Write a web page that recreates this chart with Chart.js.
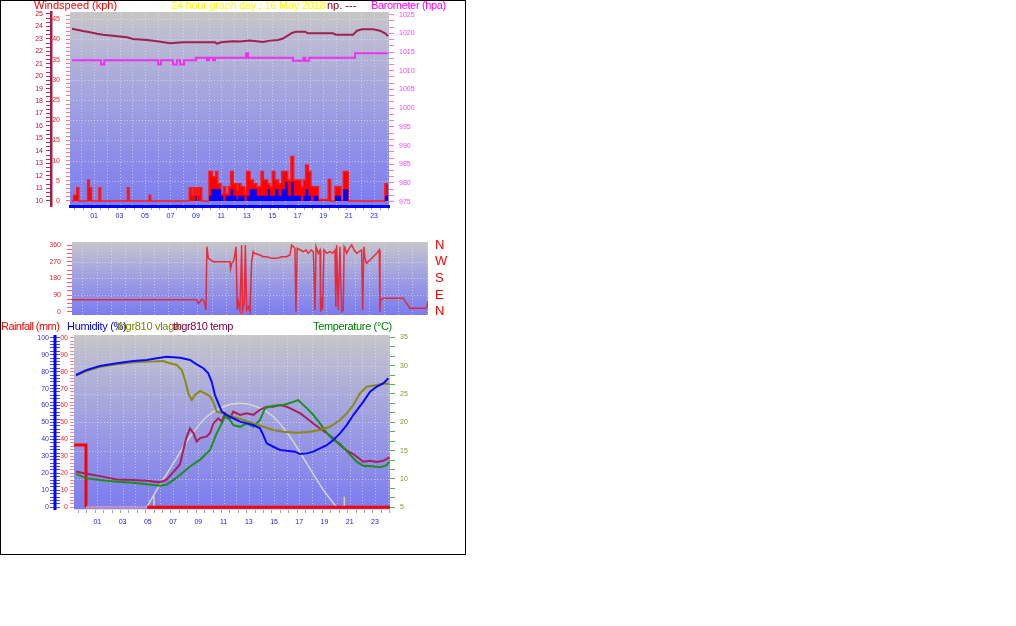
<!DOCTYPE html>
<html>
<head>
<meta charset="utf-8">
<title>24 hour graph</title>
<script src="https://cdn.jsdelivr.net/npm/chart.js@4.4.1/dist/chart.umd.min.js"></script>
<style>
  body { margin: 0; background: #fff; width: 1016px; height: 626px; overflow: hidden; position: relative; }
  #frame { position: absolute; left: 0; top: 0; width: 464px; height: 553px; border: 1px solid #000; }
  canvas { position: absolute; left: 0; }
  .t { position: absolute; font: 11px 'Liberation Sans', Arial, sans-serif; line-height: 11px; white-space: nowrap; }
</style>
</head>
<body>
<div id="frame"></div>
<canvas id="wind" width="466" height="228" style="top:0"></canvas>
<canvas id="dir" width="466" height="90" style="top:230px"></canvas>
<canvas id="hum" width="466" height="220" style="top:320px"></canvas>

<div class="t" style="left:34px;top:0;color:#ff0000">Windspeed (kph)</div>
<div class="t" style="left:327px;top:0;color:#800020">np. ---</div>
<div class="t" style="left:171px;top:0;color:#ffff00;letter-spacing:-0.25px">24 hour graph day : 16 May 2018</div>
<div class="t" style="left:371px;top:0;color:#ff00ff;letter-spacing:-0.35px">Barometer (hpa)</div>

<div class="t" style="left:1px;top:321px;color:#ff0000;letter-spacing:-0.55px">Rainfall (mm)</div>
<div class="t" style="left:67px;top:321px;color:#0000ff;letter-spacing:-0.3px">Humidity (%)</div>
<div class="t" style="left:117px;top:321px;color:#808000;letter-spacing:-0.3px">thgr810 vlaga</div>
<div class="t" style="left:173px;top:321px;color:#800040;letter-spacing:-0.4px">thgr810 temp</div>
<div class="t" style="left:313px;top:321px;color:#008000;letter-spacing:-0.35px">Temperature (°C)</div>

<script>
// time axis labels (hours)
var hourTicks = [1, 3, 5, 7, 9, 11, 13, 15, 17, 19, 21, 23];
var hourLabels = ['01', '03', '05', '07', '09', '11', '13', '15', '17', '19', '21', '23'];

// --- windspeed / barometer ---
var windHours = [-0.75, -0.6, -0.36, -0.2, 0.5, 0.63, 0.8, 1.39, 1.52, 3.62, 3.75, 5.34, 5.45,
  8.48, 8.67, 8.8, 8.93, 9.06, 9.19, 9.27, 9.46,
  10.03, 10.2, 10.29, 10.55, 10.71, 10.97, 11.16, 11.34, 11.55, 11.73, 11.94, 12.2, 12.33, 12.54, 12.81,
  12.99, 13.25, 13.51, 13.78, 14.12, 14.3, 14.64, 14.82, 15.0, 15.21, 15.48, 15.74, 16.0, 16.21, 16.47,
  16.68, 17.26, 17.44, 17.62, 17.83, 18.04, 18.25, 18.62, 19.4, 19.59, 19.93, 20.4, 20.58, 20.97, 23.85, 24.1];
var gustKph = [0, 1.4, 3.3, 0, 5.2, 3.3, 0, 3.3, 0, 3.3, 0, 1.4, 0,
  3.3, 1.5, 3.3, 1.5, 3.3, 1.5, 3.3, 0,
  7.3, 7.3, 6.0, 7.3, 4.3, 1.8, 3.5, 1.8, 3.5, 7.3, 4.3, 2.7, 4.3, 3.5, 1.8,
  7.3, 5.2, 4.3, 3.5, 7.3, 5.2, 4.3, 3.5, 7.3, 5.2, 4.3, 7.3, 7.3, 5.2, 11.0,
  5.2, 3.5, 5.2, 8.9, 7.3, 3.5, 3.5, 0.4, 5.3, 0, 3.5, 0.4, 7.3, 0, 4.3, 4.3];
var avgKph = [0, 0, 0, 0, 0, 0, 0, 0, 0, 0, 0, 0, 0,
  0, 0, 0, 1.3, 0, 0, 0, 0,
  1.3, 2.9, 2.9, 2.9, 2.9, 1.3, 0, 1.3, 1.3, 2.9, 1.3, 0.4, 1.3, 1.3, 0,
  1.3, 2.9, 2.9, 1.3, 1.3, 1.3, 2.9, 1.3, 1.3, 2.9, 1.3, 2.9, 4.7, 1.3, 4.7,
  1.3, 0, 1.3, 2.9, 1.3, 0, 1.3, 0, 0, 0, 1.3, 0, 2.9, 0, 1.3, 1.3];
var kphLabels = [0, 5, 10, 15, 20, 25, 30, 35, 40, 45];
var beaufortLabels = [10, 11, 12, 13, 14, 15, 16, 17, 18, 19, 20, 21, 22, 23, 24, 25];

var upperHours = [-0.73, -0.26, 0.13, 0.68, 1.23, 1.7, 2.65, 3.59, 4.06, 5.16, 5.95, 6.97, 7.99, 10.5, 10.66,
  10.97, 11.9, 12.47, 13.26, 14.27, 14.82, 15.45, 15.84, 16.55, 16.87, 17.57, 17.8, 19.77, 20.0, 21.34,
  21.66, 22.05, 22.92, 23.46, 23.86, 24.1];
var upperVals = [1021.2, 1020.9, 1020.6, 1020.3, 1019.9, 1019.65, 1019.3, 1018.95, 1018.5, 1018.2, 1017.9,
  1017.35, 1017.6, 1017.6, 1017.25, 1017.6, 1017.9, 1017.8, 1018.05, 1017.7, 1018.05, 1018.2, 1018.6,
  1020.1, 1020.45, 1020.45, 1020.0, 1020.0, 1019.65, 1019.65, 1020.7, 1021.1, 1021.1, 1020.7, 1020.0, 1019.3];

var baroHours = [-0.73, 1.55, 1.8, 6.03, 6.26, 7.2, 7.5, 7.75, 8.07, 9.0, 9.87, 10.03, 10.35, 10.5, 12.94,
  13.1, 16.63, 17.45, 17.6, 17.9, 21.5, 24.1];
var baroHpa = [1012.8, 1011.7, 1012.8, 1011.7, 1012.8, 1011.7, 1012.8, 1011.7, 1012.8, 1013.5, 1012.8,
  1013.5, 1012.8, 1013.5, 1014.7, 1013.5, 1012.7, 1013.5, 1012.7, 1013.5, 1014.7, 1014.7];
var baroLabels = [975, 980, 985, 990, 995, 1000, 1005, 1010, 1015, 1020, 1025];

// --- wind direction ---
var dirHours = [-0.73, 7.97, 8.08, 8.2, 8.31, 8.43, 8.54, 8.61, 8.68, 8.78, 9.12, 10.29, 10.33, 10.41, 10.52,
  10.59, 10.71, 10.8, 10.87, 10.99, 11.1, 11.17, 11.29, 11.36, 11.45, 11.57, 11.68, 11.8, 11.91, 12.0,
  12.38, 12.6, 12.85, 13.2, 13.55, 13.9, 14.24, 14.47, 14.59, 14.82, 14.89, 14.98, 15.2, 15.4, 15.6,
  15.75, 15.95, 16.1, 16.22, 16.29, 16.45, 16.57, 16.61, 16.69, 16.75, 16.84, 17.05, 17.26, 17.45, 17.61,
  17.67, 17.73, 17.84, 17.96, 18.08, 18.19, 18.25, 18.31, 18.43, 18.6, 18.78, 18.95, 19.12, 19.3, 19.47,
  19.54, 19.63, 19.7, 19.82, 20.05, 20.28, 20.52, 20.7, 20.75, 20.8, 20.98, 22.37, 22.84, 24.0, 24.1];
var dirDeg = [65, 65, 45, 54, 67, 63, 40, 9, 351, 288, 270, 270, 232, 261, 270,
  288, 351, 9, 54, 9, 360, 9, 54, 360, 9, 27, 0, 270, 324, 315,
  306, 297, 297, 288, 288, 297, 297, 306, 360, 342, 0, 342, 333, 324, 333,
  315, 333, 324, 9, 351, 315, 333, 0, 54, 9, 333, 315, 324, 315, 333,
  27, 360, 9, 351, 0, 9, 351, 342, 315, 342, 360, 333, 315, 324, 333,
  9, 351, 288, 261, 279, 297, 315, 333, 0, 63, 72, 72, 18, 18, 54];
var dirLabels = [0, 90, 180, 270, 360];
var compassLabels = ['N', 'E', 'S', 'W', 'N'];

// --- rain / humidity / temperature ---
var rainHours = [-0.85, 0.1, 0.1, 4.95, 24.19];
var rainMm = [36.7, 36.7, 0, 0, 0];

var humHours = [-0.69, 0.16, 1.21, 2.54, 3.85, 4.91, 5.71, 6.5, 7.55, 8.34, 8.87, 9.4, 9.79, 10.06, 10.32,
  10.59, 10.86, 11.25, 11.77, 12.31, 12.84, 13.36, 13.89, 14.15, 14.42, 14.94, 15.48, 16.0, 16.66, 17.06,
  17.59, 18.11, 18.64, 19.18, 19.7, 20.23, 20.76, 21.28, 22.08, 22.61, 23.14, 23.66, 24.06];
var humPct = [78.0, 81.0, 83.3, 84.9, 86.3, 86.9, 87.9, 88.8, 88.2, 86.9, 84.3, 82.0, 79.0, 74.0, 66.2,
  61.3, 56.4, 54.4, 52.5, 50.5, 49.5, 48.5, 46.6, 42.6, 37.7, 35.7, 33.8, 33.4, 32.8, 31.4,
  31.8, 32.8, 34.8, 36.7, 39.7, 43.6, 48.5, 54.4, 62.3, 68.2, 71.1, 73.1, 76.1];

var vlagaHours = [-0.69, 0.16, 1.21, 2.54, 3.85, 5.17, 6.23, 6.76, 7.29, 7.69, 7.95, 8.21, 8.48, 8.74, 9.14,
  9.53, 9.93, 10.19, 10.46, 10.98, 11.77, 12.57, 13.36, 14.15, 14.94, 15.74, 16.8, 17.85, 18.64, 19.43,
  20.23, 20.76, 21.28, 21.81, 22.35, 23.14, 23.66, 24.14];
var vlagaPct = [77.6, 80.4, 82.9, 84.3, 85.5, 85.9, 86.3, 84.9, 83.9, 81.0, 75.1, 67.2, 63.3, 66.2, 68.6,
  67.2, 65.5, 62.0, 56.4, 55.4, 53.4, 51.5, 49.5, 47.5, 45.6, 44.6, 44.0, 44.6, 45.6, 47.5,
  51.5, 55.4, 60.3, 67.2, 71.1, 72.1, 73.1, 72.5];

var tempHours = [-0.69, 0.16, 1.21, 2.54, 3.85, 4.91, 5.97, 6.5, 7.02, 7.55, 7.81, 8.08, 8.34, 8.61, 8.87,
  9.14, 9.67, 9.93, 10.19, 10.59, 10.86, 11.12, 11.51, 11.77, 12.31, 12.84, 13.36, 13.89, 14.42, 14.94,
  15.48, 16.0, 16.53, 17.06, 17.59, 18.11, 18.64, 19.18, 19.7, 20.23, 20.76, 21.28, 22.08, 22.61, 23.14,
  23.66, 24.14];
var tempC = [11.3, 10.9, 10.5, 9.9, 9.8, 9.7, 9.4, 9.9, 11.2, 12.6, 15.1, 17.5, 18.9, 18.1, 16.6,
  17.2, 17.5, 18.1, 19.8, 20.7, 20.1, 21.6, 20.7, 21.9, 21.3, 21.6, 21.3, 22.2, 22.75, 22.75,
  23.05, 22.75, 22.2, 21.6, 20.7, 19.8, 18.9, 18.1, 17.2, 16.0, 15.0, 14.4, 13.05, 13.2, 13.0,
  13.2, 13.8];

var outHours = [-0.69, 0.16, 1.21, 2.54, 3.85, 4.91, 5.97, 6.5, 7.02, 7.55, 8.34, 9.14, 9.93, 10.46, 10.86,
  11.12, 11.51, 11.77, 12.31, 12.84, 13.36, 13.89, 14.29, 14.94, 15.74, 16.53, 16.92, 17.06, 17.59, 18.11,
  18.64, 19.18, 19.7, 20.23, 20.76, 21.55, 22.08, 22.61, 23.4, 23.93, 24.14];
var outC = [10.9, 10.1, 9.8, 9.5, 9.35, 9.05, 8.8, 9.0, 9.8, 10.7, 12.2, 13.4, 15.1, 18.1, 19.8,
  21.0, 20.4, 19.5, 19.2, 19.8, 19.2, 20.4, 22.5, 22.9, 23.05, 23.6, 23.9, 23.6, 22.5, 21.3,
  19.8, 18.1, 16.9, 16.2, 14.9, 13.05, 12.3, 12.3, 12.05, 12.45, 13.05];

var solarHours = [4.91, 5.71, 7.02, 8.34, 9.67, 10.98, 12.31, 13.63, 14.94, 16.27, 17.59, 18.91, 19.97];
var solarVal = [0, 10.2, 25.9, 41.6, 53.4, 59.3, 61.3, 59.3, 53.4, 41.6, 25.9, 10.2, 0];
var sunMarks = [5.49, 20.57];
var sunMarkTop = 6.3;

var humLabels = [0, 10, 20, 30, 40, 50, 60, 70, 80, 90, 100];
var tempLabels = [5, 10, 15, 20, 25, 30, 35];


Chart.defaults.font.family = "'Liberation Sans', Arial, sans-serif";

function pts(xs, ys) {
  return xs.map(function (x, i) { return { x: x, y: ys[i] }; });
}

// fixed axis box size so the plot areas land where the original has them
function fixBox(size) {
  return function (s) {
    if (s.isHorizontal()) s.height = size; else s.width = size;
    s.paddingTop = 0; s.paddingBottom = 0; s.paddingLeft = 0; s.paddingRight = 0;
  };
}

function stepTicks(from, step, count) {
  return function (s) {
    var t = [];
    for (var k = 0; k <= count; k++) t.push({ value: +(from + k * step).toFixed(4) });
    s.ticks = t;
  };
}

function labelIf(list) {
  return function (v) {
    for (var i = 0; i < list.length; i++) if (Math.abs(list[i] - v) < 0.001) return String(list[i]);
    return '';
  };
}

function yAxis(o) {
  return {
    position: o.pos, weight: o.weight || 0, min: o.min, max: o.max,
    afterBuildTicks: stepTicks(o.from, o.step, o.count),
    afterFit: fixBox(o.size),
    grid: { drawOnChartArea: false, drawTicks: o.tick > 0, tickLength: o.tick || 0, tickColor: o.tickColor, tickWidth: 1 },
    border: { display: !!o.border, color: o.border, width: o.borderWidth || 1 },
    ticks: { autoSkip: false, padding: o.pad, color: o.color, font: { size: o.fs || 7 }, callback: o.cb }
  };
}

function timeAxis(min, max, size, pad, border) {
  return {
    type: 'linear', position: 'bottom', min: min, max: max,
    afterBuildTicks: function (s) {
      var t = [];
      for (var k = 0; k <= 38; k++) {
        var v = -0.5 + k * 2 / 3;
        if (v >= min && v <= max) t.push({ value: v });
      }
      hourTicks.forEach(function (h) { t.push({ value: h }); });
      t.sort(function (a, b) { return a.value - b.value; });
      s.ticks = t;
    },
    afterFit: fixBox(size),
    grid: {
      drawOnChartArea: false, tickLength: 4,
      tickColor: function (ctx) { return hourTicks.indexOf(ctx.tick.value) >= 0 ? 'rgba(0,0,0,0)' : '#a4a4a4'; }
    },
    border: border,
    ticks: {
      autoSkip: false, maxRotation: 0, padding: pad, color: '#1818ff', font: { size: 7 },
      callback: function (v) { var i = hourTicks.indexOf(v); return i < 0 ? '' : hourLabels[i]; }
    }
  };
}

// gradient plot background, dotted grid and the blue humidity spine
var plotBack = {
  id: 'plotBack',
  beforeDraw: function (chart, args, o) {
    var a = chart.chartArea, c = chart.ctx;
    c.save();
    var g = c.createLinearGradient(0, a.top, 0, a.bottom);
    g.addColorStop(0, '#c6c6c6');
    g.addColorStop(0.12, '#bcbcd2');
    g.addColorStop(0.5, '#9e9ee2');
    g.addColorStop(1, '#7c7cf0');
    c.fillStyle = g;
    c.fillRect(a.left, a.top, a.right - a.left, a.bottom - a.top);
    c.strokeStyle = 'rgba(228,228,240,0.6)';
    c.lineWidth = 1;
    c.setLineDash([1, 2]);
    var xs = chart.scales.x;
    for (var h = 0; h <= 24; h++) {
      var px = Math.round(xs.getPixelForValue(h)) + 0.5;
      c.beginPath(); c.moveTo(px, a.top); c.lineTo(px, a.bottom); c.stroke();
    }
    var ys = chart.scales[o.axis];
    o.lines.forEach(function (v) {
      var py = Math.round(ys.getPixelForValue(v)) + 0.5;
      c.beginPath(); c.moveTo(a.left, py); c.lineTo(a.right, py); c.stroke();
    });
    c.restore();
  },
  afterDraw: function (chart, args, o) {
    if (!o.spine) return;
    var s = chart.scales[o.spine.axis], c = chart.ctx;
    c.save();
    c.strokeStyle = o.spine.color;
    c.lineWidth = o.spine.width;
    c.beginPath();
    c.moveTo(s.right - o.spine.inset, s.top);
    c.lineTo(s.right - o.spine.inset, s.bottom + 1);
    c.stroke();
    c.restore();
  }
};

var common = {
  responsive: false, animation: false, devicePixelRatio: 1,
  elements: { point: { radius: 0 }, line: { tension: 0 } }
};

// ---- chart 1: windspeed + barometer ----
new Chart(document.getElementById('wind'), {
  type: 'line',
  data: {
    datasets: [
      { label: 'Gust', data: pts(windHours, gustKph), yAxisID: 'yKph', stepped: 'before', fill: 'origin',
        borderColor: '#ff1818', backgroundColor: '#ff0000', borderWidth: 1.5, order: 4 },
      { label: 'Average', data: pts(windHours, avgKph), yAxisID: 'yKph', stepped: 'before', fill: 'origin',
        borderColor: '#0000ff', backgroundColor: '#0000ff', borderWidth: 0, order: 3 },
      { label: 'Temp', data: pts(upperHours, upperVals), yAxisID: 'yBaro',
        borderColor: '#a02050', borderWidth: 2, order: 2 },
      { label: 'Barometer', data: pts(baroHours, baroHpa), yAxisID: 'yBaro', stepped: 'before',
        borderColor: '#f030f0', borderWidth: 2, order: 1 }
    ]
  },
  options: Object.assign({}, common, {
    layout: { padding: { left: 29, right: 37, top: 12, bottom: 0 } },
    plugins: { legend: { display: false }, tooltip: { enabled: false },
      plotBack: { axis: 'yKph', lines: [5, 10, 15, 20, 25, 30, 35, 40, 45] } },
    scales: {
      x: timeAxis(-0.89, 24.17, 22, 2, { display: true, color: '#0000ff', width: 3 }),
      yBeau: yAxis({ pos: 'left', weight: 2, min: 9.57, max: 25.16, from: 10, step: 1 / 3, count: 45,
        size: 22, tick: 5, tickColor: '#b03058', border: '#a0204c', borderWidth: 2.5, pad: 3,
        color: '#c01030', cb: labelIf(beaufortLabels) }),
      yKph: yAxis({ pos: 'left', weight: 1, min: -1.24, max: 46.8, from: 0, step: 1, count: 46,
        size: 19, tick: 4, tickColor: '#ff7878', pad: 6, color: '#ff2020', cb: labelIf(kphLabels) }),
      yBaro: yAxis({ pos: 'right', min: 973.85, max: 1025.7, from: 975, step: 5 / 3, count: 30,
        size: 40, tick: 5, tickColor: '#ff70ff', pad: 5, color: '#ff40ff', cb: labelIf(baroLabels) })
    }
  }),
  plugins: [plotBack]
});

// ---- chart 2: wind direction ----
new Chart(document.getElementById('dir'), {
  type: 'line',
  data: {
    datasets: [
      { label: 'Direction', data: pts(dirHours, dirDeg), yAxisID: 'yDir',
        borderColor: 'rgba(236,30,40,0.9)', borderWidth: 1.5 }
    ]
  },
  options: Object.assign({}, common, {
    layout: { padding: { left: 50, right: 8, top: 12, bottom: 5 } },
    plugins: { legend: { display: false }, tooltip: { enabled: false },
      plotBack: { axis: 'yDir', lines: [90, 180, 270] } },
    scales: {
      x: { type: 'linear', min: -0.73, max: 24.1, display: false },
      yDir: yAxis({ pos: 'left', min: -17.8, max: 376.2, from: 0, step: 22.5, count: 16,
        size: 22, tick: 5, tickColor: '#ff6060', pad: 6, color: '#e02828', cb: labelIf(dirLabels) }),
      yCompass: {
        position: 'right', min: -17.8, max: 376.2,
        afterBuildTicks: function (s) { s.ticks = dirLabels.map(function (v) { return { value: v }; }); },
        afterFit: fixBox(30),
        grid: { drawOnChartArea: false, drawTicks: false },
        border: { display: false },
        ticks: { autoSkip: false, padding: 7, color: '#ff0000', font: { size: 13 },
          callback: function (v) { return compassLabels[dirLabels.indexOf(v)]; } }
      }
    }
  }),
  plugins: [plotBack]
});

// ---- chart 3: rain, humidity, temperature ----
var sunSets = sunMarks.map(function (h) {
  return { label: 'sun', data: [{ x: h, y: 0 }, { x: h, y: sunMarkTop }], yAxisID: 'yHum',
    borderColor: 'rgba(232,220,150,0.9)', borderWidth: 1.5, order: 8 };
});

new Chart(document.getElementById('hum'), {
  type: 'line',
  data: {
    datasets: [
      { label: 'Humidity (%)', data: pts(humHours, humPct), yAxisID: 'yHum', borderColor: '#0a0aff', borderWidth: 2, order: 1 },
      { label: 'thgr810 vlaga', data: pts(vlagaHours, vlagaPct), yAxisID: 'yHum', borderColor: '#8a8a10', borderWidth: 2, order: 2 },
      { label: 'Temperature (°C)', data: pts(outHours, outC), yAxisID: 'yTemp', borderColor: '#1a901a', borderWidth: 2, order: 3 },
      { label: 'thgr810 temp', data: pts(tempHours, tempC), yAxisID: 'yTemp', borderColor: '#a8205a', borderWidth: 2, order: 4 },
      { label: 'Rainfall (mm)', data: pts(rainHours, rainMm), yAxisID: 'yRain', borderColor: '#ff0000', borderWidth: 3, order: 5,
        segment: { borderColor: function (ctx) {
          return (ctx.p0.parsed.y === 0 && ctx.p1.parsed.x <= 4.95) ? 'rgba(236,160,170,0.55)' : '#ff0000';
        } } },
      { label: 'Solar', data: pts(solarHours, solarVal), yAxisID: 'yHum', borderColor: 'rgba(222,222,205,0.85)',
        borderWidth: 1.5, cubicInterpolationMode: 'monotone', order: 6 }
    ].concat(sunSets)
  },
  options: Object.assign({}, common, {
    layout: { padding: { left: 36, right: 46, top: 15, bottom: 0 } },
    plugins: { legend: { display: false }, tooltip: { enabled: false },
      plotBack: { axis: 'yTemp', lines: [10, 15, 20, 25, 30],
        spine: { axis: 'yHum', color: '#0000ff', width: 3, inset: 5 } } },
    scales: {
      x: timeAxis(-0.85, 24.19, 31, 5, { display: true, color: 'rgba(215,215,230,0.9)', width: 1 }),
      yHum: yAxis({ pos: 'left', weight: 2, min: -1.0, max: 101.6, from: 0, step: 2, count: 50,
        size: 24, tick: 10, tickColor: '#4848ff', pad: 1, color: '#3030ff', cb: labelIf(humLabels) }),
      yRain: yAxis({ pos: 'left', weight: 1, min: -1.0, max: 101.6, from: 0, step: 2, count: 50,
        size: 14, tick: 4, tickColor: '#ff8888', pad: 2, color: '#ff2828', cb: labelIf(humLabels) }),
      yTemp: yAxis({ pos: 'right', min: 4.7, max: 35.4, from: 5, step: 5 / 3, count: 18,
        size: 30, tick: 5, tickColor: '#58b058', pad: 5, color: '#7a9c28', cb: labelIf(tempLabels) })
    }
  }),
  plugins: [plotBack]
});
</script>
</body>
</html>
